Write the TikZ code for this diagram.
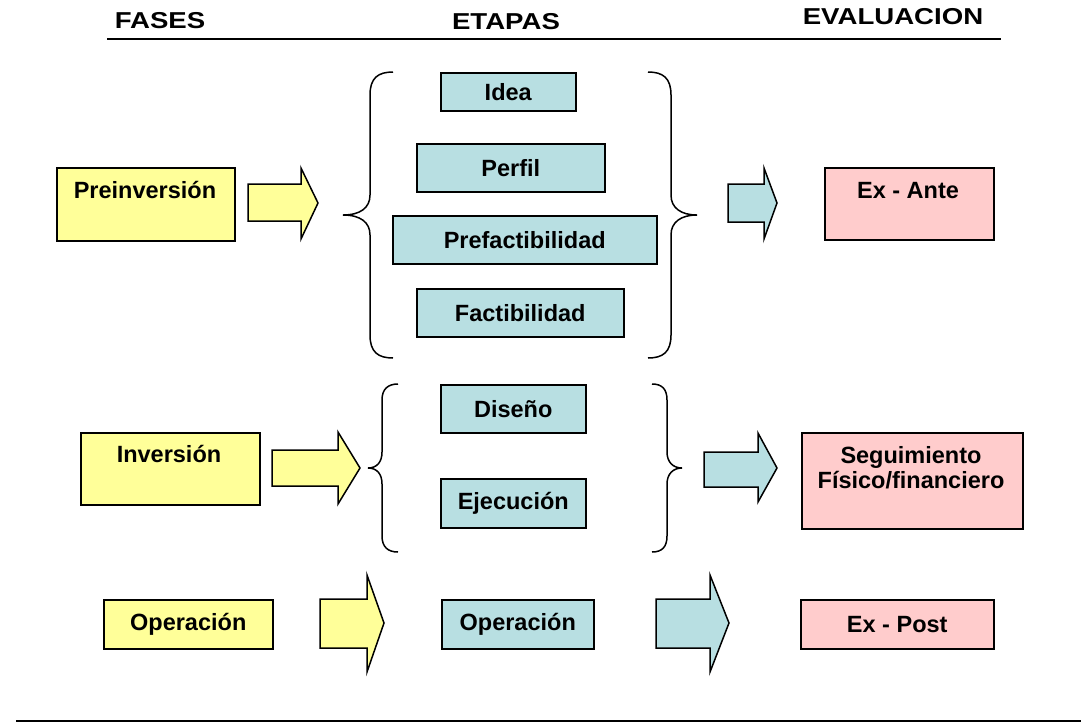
\documentclass[tikz,border=0pt]{standalone}
\usepackage{fontspec}
\setmainfont{Liberation Sans}
\definecolor{yel}{HTML}{FFFF99}
\definecolor{tea}{HTML}{B8DFE2}
\definecolor{pnk}{HTML}{FFCCCC}
\begin{document}
\begin{tikzpicture}[x=1pt,y=-1pt,
  txt/.style={font=\fontsize{23.5}{25}\selectfont\bfseries, inner sep=0pt},
  hdr/.style={font=\fontsize{23}{25}\selectfont\bfseries, inner sep=0pt},
  box/.style={draw=black, line width=1.5pt, anchor=north west, inner sep=0pt,
    font=\fontsize{23.5}{25}\selectfont\bfseries},
  ybox/.style={box, fill=yel},
  tbox/.style={box, fill=tea},
  pbox/.style={box, fill=pnk},
  blk/.style={draw=black, line width=1.5pt, line join=miter},
  brc/.style={draw=black, line width=1.5pt}
]
\useasboundingbox (0,0) rectangle (1081,724);
% header
\node[hdr] (hf) at (160,21) {\scalebox{1.2}[1]{FASES}};
\node[hdr] (he) at (506,22) {\scalebox{1.2}[1]{ETAPAS}};
\node[hdr] (hv) at (893,17) {\scalebox{1.2}[1]{EVALUACION}};
\draw[line width=1.8pt] (107,39) -- (1001,39);
\draw[line width=1.8pt] (16,721) -- (1081,721);

% row 1
\node[ybox, minimum width=178, minimum height=73] (pre) at (56,167) {};
\node[txt, anchor=base] (pret) at (145,198) {Preinversión};
\draw[blk, fill=yel] (248,184) -- (301,184) -- (301,168) -- (318,203) -- (301,239) -- (301,221) -- (248,221) -- cycle;
\draw[brc] (393,72) .. controls (378,72) and (370,78) .. (370,95) -- (370,195)
  .. controls (370,208) and (360,215) .. (343,215)
  .. controls (360,215) and (370,222) .. (370,235) -- (370,335)
  .. controls (370,352) and (378,358) .. (393,358);
\node[tbox, minimum width=135, minimum height=38] (idea) at (440,72) {Idea};
\node[tbox, minimum width=188, minimum height=48] (perf) at (416,143) {Perfil};
\node[tbox, minimum width=264, minimum height=48] (pref) at (392,215) {Prefactibilidad};
\node[tbox, minimum width=207, minimum height=48] (fact) at (416,288) {Factibilidad};
\draw[brc] (648,72) .. controls (663,72) and (671,78) .. (671,95) -- (671,195)
  .. controls (671,208) and (681,215) .. (697,215)
  .. controls (681,215) and (671,222) .. (671,235) -- (671,335)
  .. controls (671,352) and (663,358) .. (648,358);
\draw[blk, fill=tea] (728,184) -- (764,184) -- (764,168) -- (777,203) -- (764,239) -- (764,222) -- (728,222) -- cycle;
\node[pbox, minimum width=169, minimum height=72] (ante) at (824,167) {};
\node[txt, anchor=base] (antet) at (908,198) {Ex - Ante};

% row 2
\node[ybox, minimum width=179, minimum height=72] (inv) at (80,432) {};
\node[txt, anchor=base] (invt) at (169,462) {Inversión};
\draw[blk, fill=yel] (272,450) -- (338,450) -- (338,432) -- (360,468) -- (338,504) -- (338,486) -- (272,486) -- cycle;
\draw[brc] (398,384) .. controls (388,384) and (382,389) .. (382,400) -- (382,452)
  .. controls (382,462) and (377,468) .. (368,468)
  .. controls (377,468) and (382,474) .. (382,484) -- (382,536)
  .. controls (382,547) and (388,552) .. (398,552);
\node[tbox, minimum width=145, minimum height=48] (dis) at (440,384) {Diseño};
\node[tbox, minimum width=145, minimum height=49] (eje) at (440,478) {Ejecución};
\draw[brc] (652,384) .. controls (662,384) and (667,389) .. (667,400) -- (667,452)
  .. controls (667,462) and (673,468) .. (682,468)
  .. controls (673,468) and (667,474) .. (667,484) -- (667,536)
  .. controls (667,547) and (662,552) .. (652,552);
\draw[blk, fill=tea] (704,452) -- (758,452) -- (758,433) -- (777,468) -- (758,502) -- (758,487) -- (704,487) -- cycle;
\node[pbox, minimum width=221, minimum height=96] (seg) at (801,432) {};
\node[txt, anchor=base] (segt1) at (911,463) {Seguimiento};
\node[txt, anchor=base] (segt2) at (911,488) {Físico/financiero};

% row 3
\node[ybox, minimum width=169, minimum height=49] (op1) at (103,599) {Operación};
\draw[blk, fill=yel] (320,599) -- (367,599) -- (367,575) -- (384,623) -- (367,672) -- (367,648) -- (320,648) -- cycle;
\node[tbox, minimum width=152, minimum height=49] (op2) at (441,599) {Operación};
\draw[blk, fill=tea] (656,599) -- (710,599) -- (710,575) -- (729,623) -- (710,672) -- (710,648) -- (656,648) -- cycle;
\node[pbox, minimum width=193, minimum height=49] (post) at (800,599) {Ex - Post};
\end{tikzpicture}
\end{document}
